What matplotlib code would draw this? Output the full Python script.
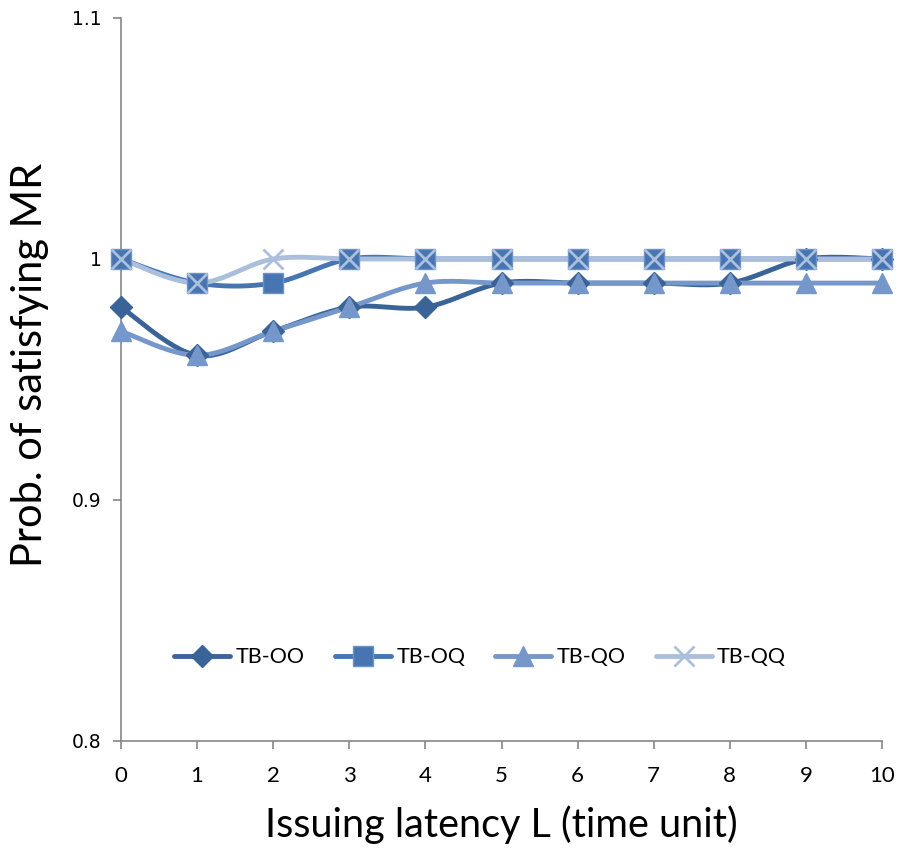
import numpy as np
import matplotlib
matplotlib.use("Agg")
from matplotlib import pyplot as plt
from matplotlib.lines import Line2D

latency = list(range(11))
tb_oo = [0.98, 0.96, 0.97, 0.98, 0.98, 0.99, 0.99, 0.99, 0.99, 1.0, 1.0]
tb_oq = [1.0, 0.99, 0.99, 1.0, 1.0, 1.0, 1.0, 1.0, 1.0, 1.0, 1.0]
tb_qo = [0.97, 0.96, 0.97, 0.98, 0.99, 0.99, 0.99, 0.99, 0.99, 0.99, 0.99]
tb_qq = [1.0, 0.99, 1.0, 1.0, 1.0, 1.0, 1.0, 1.0, 1.0, 1.0, 1.0]
names = ["TB-OO", "TB-OQ", "TB-QO", "TB-QQ"]
y_ticks = [0.8, 0.9, 1.0, 1.1]
y_tick_labels = ["0.8", "0.9", "1", "1.1"]


def smooth(x, y, n=30):
    # excel-like smoothed line (bezier through the points)
    x = np.asarray(x, float)
    y = np.asarray(y, float)
    px = np.concatenate([[x[0]], x, [x[-1]]])
    py = np.concatenate([[y[0]], y, [y[-1]]])
    xs, ys = [], []
    t = np.linspace(0, 1, n)
    for i in range(1, len(px) - 2):
        p0 = np.array([px[i], py[i]])
        p3 = np.array([px[i + 1], py[i + 1]])
        p1 = p0 + (np.array([px[i + 1], py[i + 1]]) - np.array([px[i - 1], py[i - 1]])) / 6
        p2 = p3 - (np.array([px[i + 2], py[i + 2]]) - np.array([px[i], py[i]])) / 6
        b = ((1 - t) ** 3)[:, None] * p0 + (3 * (1 - t) ** 2 * t)[:, None] * p1 \
            + (3 * (1 - t) * t ** 2)[:, None] * p2 + (t ** 3)[:, None] * p3
        xs.extend(b[:, 0])
        ys.extend(b[:, 1])
    return xs, ys


fig = plt.figure(figsize=(8.99, 8.48), dpi=100)
ax = fig.add_axes([0.1346, 0.1262, 0.8465, 0.8526])

styles = [
    dict(color="#3a6497", marker="D", ms=11, mec="#3a6497"),
    dict(color="#4675b2", marker="s", ms=14, mec="#6f93c6"),
    dict(color="#7597c9", marker="^", ms=15, mec="#7597c9"),
    dict(color="#abbfdd", marker="x", ms=14, mec="#abbfdd", mew=2),
]
series = [tb_oo, tb_oq, tb_qo, tb_qq]

handles = []
for vals, st, nm in zip(series, styles, names):
    sx, sy = smooth(latency, vals)
    ax.plot(sx, sy, color=st["color"], lw=3.5, solid_capstyle="round", zorder=2)
    ax.plot(latency, vals, ls="none", marker=st["marker"], ms=st["ms"],
            color=st["color"], mec=st["mec"], mew=st.get("mew", 1), zorder=3,
            clip_on=False)
    handles.append(Line2D([], [], color=st["color"], lw=3.5, marker=st["marker"],
                          ms=st["ms"], mec=st["mec"], mew=st.get("mew", 1),
                          solid_capstyle="round"))

ax.set_xlim(0, 10)
ax.set_ylim(0.8, 1.1)
ax.set_xticks(latency)
ax.set_xticklabels([str(v) for v in latency], fontfamily="Lato", fontsize=16)
ax.set_yticks(y_ticks)
ax.set_yticklabels(y_tick_labels, fontfamily="DejaVu Sans", fontsize=13.5)

for s in ["top", "right"]:
    ax.spines[s].set_visible(False)
for s in ["left", "bottom"]:
    ax.spines[s].set_color("#868686")
    ax.spines[s].set_linewidth(1.2)
ax.tick_params(axis="both", direction="out", length=6, width=1.2, color="#868686")
ax.tick_params(axis="x", pad=12)
ax.tick_params(axis="y", pad=8)

ax.set_xlabel("Issuing latency L (time unit)", fontfamily="Lato", fontsize=28.5, labelpad=14)
ax.set_ylabel("Prob. of satisfying MR", fontfamily="Lato", fontsize=30, va="center")
ax.yaxis.set_label_coords(-0.12, 0.52)

ax.legend(handles, names, loc="center", bbox_to_anchor=(0.472, 0.116), ncol=4,
          frameon=False, prop={"family": "Lato", "size": 15.5}, handlelength=2.6,
          columnspacing=1.4, handletextpad=0.25)

fig.savefig("out.png", dpi=100)
